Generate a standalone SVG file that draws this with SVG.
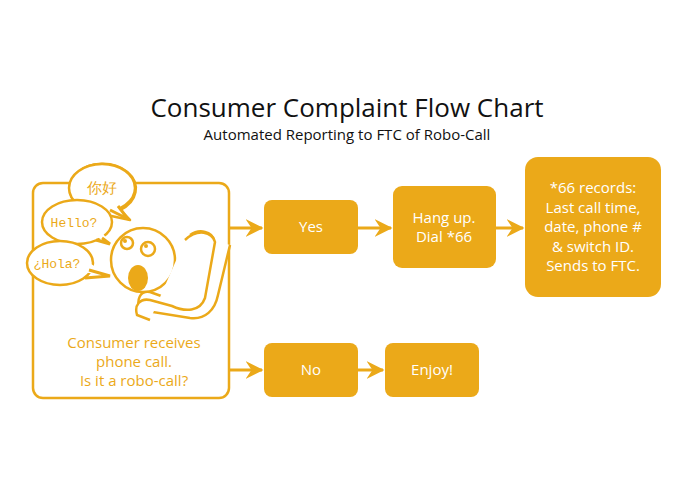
<svg xmlns="http://www.w3.org/2000/svg" width="695" height="494" viewBox="0 0 695 494">
<style>
.box{fill:#EBA919}
.bt{fill:#fff;font-family:"Open Sans",sans-serif;font-size:15px;text-anchor:middle}
.ln{stroke:#EBA919;stroke-width:3;fill:none}
.ol{stroke:#EBA919;stroke-width:2.5;fill:#fff}
.ot{fill:#EBA919;font-family:"Open Sans",sans-serif;font-size:15px;text-anchor:middle}
.mono{fill:#EBA919;font-family:"Liberation Mono",monospace;font-size:13px;text-anchor:middle}
</style>
<defs>
<marker id="ar" viewBox="0 0 12 12" refX="11" refY="6" markerWidth="6" markerHeight="6" markerUnits="strokeWidth" orient="auto">
<path d="M0,0 L12,6 L0,12 L4,6 Z" fill="#EBA919"/>
</marker>
</defs>
<rect width="695" height="494" fill="#fff"/>
<text x="347" y="117" text-anchor="middle" font-family="'Open Sans',sans-serif" font-size="26" fill="#111">Consumer Complaint Flow Chart</text>
<text x="347" y="140" text-anchor="middle" font-family="'Open Sans',sans-serif" font-size="15" fill="#111">Automated Reporting to FTC of Robo-Call</text>
<g id="connectors">
<path class="ln" d="M229,228 H262" marker-end="url(#ar)"/>
<path class="ln" d="M358,228 H391" marker-end="url(#ar)"/>
<path class="ln" d="M496,228 H523" marker-end="url(#ar)"/>
<path class="ln" d="M229,370 H262" marker-end="url(#ar)"/>
<path class="ln" d="M358,370 H383" marker-end="url(#ar)"/>
</g>
<g id="start">
<rect x="33" y="183" width="196" height="215" rx="10" class="ol"/>
<path class="ol" d="M190,235 C200,228 212,232 214,240 L200,295 C196,305 186,306 178,302 L150,292 C140,290 136,300 140,310 L190,318 C205,320 215,310 218,295 L230,245" stroke-width="2" fill="#f7f5f0"/>
<circle cx="143" cy="260" r="32" class="ol"/>
<path class="ol" d="M185,240 C198,228 212,232 215,242 L205,298 C200,312 185,312 172,306 L150,300 C140,298 134,305 137,315 L150,320" fill="#f7f5f0" stroke-width="2"/>
<circle cx="127" cy="243" r="6" class="ol" stroke-width="2"/>
<circle cx="125" cy="241" r="2" fill="#EBA919"/>
<circle cx="148" cy="249" r="7" class="ol" stroke-width="2"/>
<circle cx="146" cy="246" r="2" fill="#EBA919"/>
<ellipse cx="138" cy="278" rx="10" ry="13" fill="#EBA919"/>
<g id="bubbles">
<path class="ol" d="M88,211 A33,25 0 1 1 120,210 L130,220 Z" stroke-linejoin="round"/>
<ellipse cx="102" cy="188" rx="33" ry="24" class="ol"/>
<path d="M90,205 L128,219 L118,204 Z" fill="#fff"/>
<path class="ln" stroke-width="2.5" d="M118,206 L128,219 L110,210"/>
<ellipse cx="77" cy="222" rx="35" ry="22" class="ol"/>
<path d="M95,236 L110,244 L102,232 Z" fill="#fff"/>
<path class="ln" stroke-width="2.5" d="M102,238 L110,244 L96,240"/>
<ellipse cx="60" cy="263" rx="33" ry="22" class="ol"/>
<path d="M82,272 L110,276 L88,262 Z" fill="#fff"/>
<path class="ln" stroke-width="2.5" d="M89,270 L110,276 L85,278"/>
<text x="102" y="193" class="ot" font-family="'Noto Sans CJK SC',sans-serif" font-size="14">你好</text>
<text x="74" y="227" class="mono">Hello?</text>
<text x="57" y="268" class="mono">¿Hola?</text>
</g>
<text class="ot" x="134" y="348">Consumer receives</text>
<text class="ot" x="134" y="367">phone call.</text>
<text class="ot" x="134" y="386">Is it a robo-call?</text>
</g>
<g id="yes"><rect class="box" x="264" y="200" width="94" height="54" rx="8"/><text class="bt" x="311" y="232">Yes</text></g>
<g id="hangup"><rect class="box" x="393" y="186" width="103" height="82" rx="9"/><text class="bt" x="444" y="223">Hang up.</text><text class="bt" x="444" y="242">Dial *66</text></g>
<g id="records"><rect class="box" x="525" y="157" width="136" height="140" rx="13"/>
<text class="bt" x="593" y="193">*66 records:</text><text class="bt" x="593" y="213">Last call time,</text><text class="bt" x="593" y="232">date, phone #</text><text class="bt" x="593" y="252">&amp; switch ID.</text><text class="bt" x="593" y="271">Sends to FTC.</text></g>
<g id="no"><rect class="box" x="264" y="343" width="94" height="54" rx="8"/><text class="bt" x="311" y="375">No</text></g>
<g id="enjoy"><rect class="box" x="385" y="343" width="94" height="54" rx="8"/><text class="bt" x="432" y="375">Enjoy!</text></g>
</svg>
